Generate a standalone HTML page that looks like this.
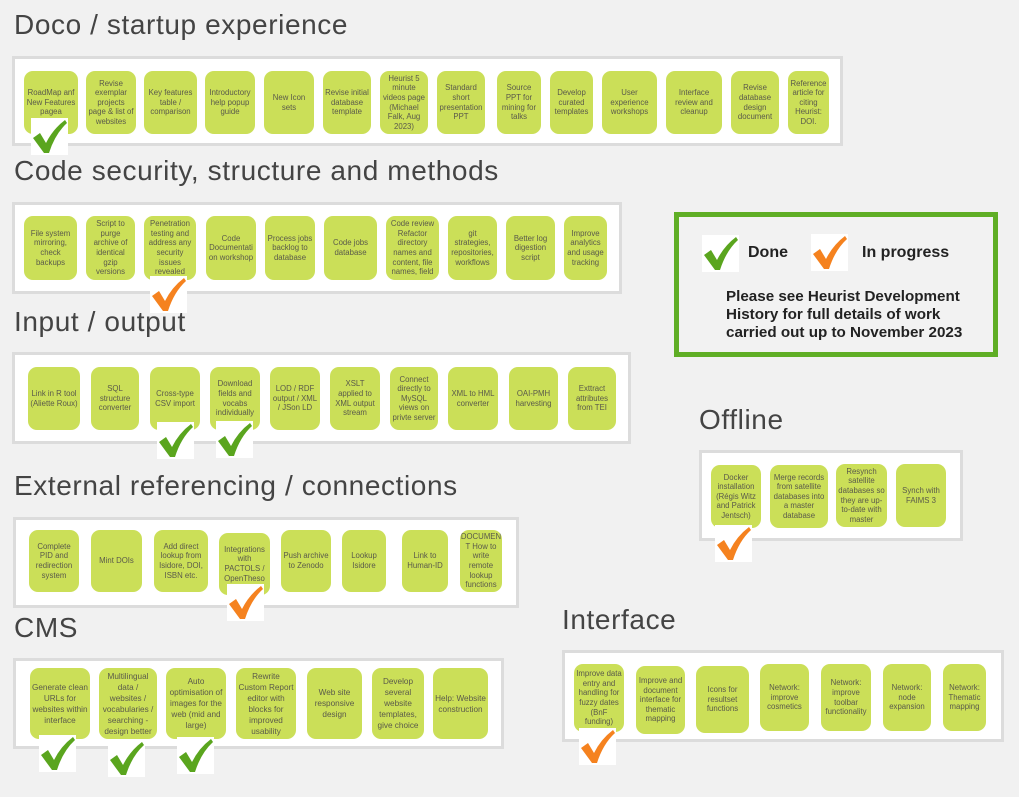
<!DOCTYPE html>
<html><head><meta charset="utf-8"><style>
body{margin:0;width:1019px;height:797px;background:#f1f1f1;position:relative;overflow:hidden;font-family:"Liberation Sans",sans-serif}
.t{position:absolute;font-size:28px;letter-spacing:0.6px;color:#444;line-height:30px;white-space:nowrap}
.p{position:absolute;background:#fff;border:3px solid #dcdcdc;box-sizing:border-box}
.b{position:absolute;background:#cbdf58;border-radius:9px;display:flex;align-items:center;justify-content:center;text-align:center;font-size:7.8px;line-height:9.6px;color:#5a5a4a;padding:0 2px;box-sizing:border-box;overflow:hidden}
.c{position:absolute;background:#fff;width:37px;height:37px}
.c svg{width:37px;height:37px;display:block}
.lg{position:absolute;left:674px;top:212px;width:324px;height:145px;border:5px solid #5fae25;box-sizing:border-box;background:#f2f2f2}
.lt{position:absolute;font-weight:bold;color:#222;white-space:nowrap}
</style></head><body>

<div class="t" style="left:14px;top:10px">Doco / startup experience</div>
<div class="p" style="left:12px;top:56px;width:831px;height:90px"></div>
<div class="b" style="left:24px;top:71px;width:54px;height:63px">RoadMap anf New Features pagea</div>
<div class="b" style="left:86px;top:71px;width:50px;height:63px">Revise exemplar projects page &amp; list of websites</div>
<div class="b" style="left:144px;top:71px;width:53px;height:63px">Key features table / comparison</div>
<div class="b" style="left:205px;top:71px;width:50px;height:63px">Introductory help popup guide</div>
<div class="b" style="left:264px;top:71px;width:50px;height:63px">New Icon sets</div>
<div class="b" style="left:323px;top:71px;width:48px;height:63px">Revise initial database template</div>
<div class="b" style="left:380px;top:71px;width:48px;height:63px">Heurist 5 minute videos page (Michael Falk, Aug 2023)</div>
<div class="b" style="left:437px;top:71px;width:48px;height:63px">Standard short presentation PPT</div>
<div class="b" style="left:497px;top:71px;width:44px;height:63px">Source PPT for mining for talks</div>
<div class="b" style="left:550px;top:71px;width:43px;height:63px">Develop curated templates</div>
<div class="b" style="left:602px;top:71px;width:55px;height:63px">User experience workshops</div>
<div class="b" style="left:666px;top:71px;width:56px;height:63px">Interface review and cleanup</div>
<div class="b" style="left:731px;top:71px;width:48px;height:63px">Revise database design document</div>
<div class="b" style="left:788px;top:71px;width:41px;height:63px">Reference article for citing Heurist: DOI.</div>

<div class="t" style="left:14px;top:156px">Code security, structure and methods</div>
<div class="p" style="left:12px;top:202px;width:610px;height:92px"></div>
<div class="b" style="left:24px;top:216px;width:53px;height:64px">File system mirroring, check backups</div>
<div class="b" style="left:86px;top:216px;width:49px;height:64px">Script to purge archive of identical gzip versions</div>
<div class="b" style="left:144px;top:216px;width:52px;height:64px">Penetration testing and address any security issues revealed</div>
<div class="b" style="left:206px;top:216px;width:50px;height:64px">Code Documentati on workshop</div>
<div class="b" style="left:265px;top:216px;width:50px;height:64px">Process jobs backlog to database</div>
<div class="b" style="left:324px;top:216px;width:53px;height:64px">Code jobs database</div>
<div class="b" style="left:386px;top:216px;width:53px;height:64px">Code review Refactor directory names and content, file names, field</div>
<div class="b" style="left:448px;top:216px;width:49px;height:64px">git strategies, repositories, workflows</div>
<div class="b" style="left:506px;top:216px;width:49px;height:64px">Better log digestion script</div>
<div class="b" style="left:564px;top:216px;width:43px;height:64px">Improve analytics and usage tracking</div>

<div class="t" style="left:14px;top:307px">Input / output</div>
<div class="p" style="left:12px;top:352px;width:619px;height:92px"></div>
<div class="b" style="left:28px;top:367px;width:52px;height:63px">Link in R tool (Aliette Roux)</div>
<div class="b" style="left:91px;top:367px;width:48px;height:63px">SQL structure converter</div>
<div class="b" style="left:150px;top:367px;width:50px;height:63px">Cross-type CSV import</div>
<div class="b" style="left:210px;top:367px;width:50px;height:63px">Download fields and vocabs individually</div>
<div class="b" style="left:270px;top:367px;width:50px;height:63px">LOD / RDF output / XML / JSon LD</div>
<div class="b" style="left:330px;top:367px;width:50px;height:63px">XSLT applied to XML output stream</div>
<div class="b" style="left:390px;top:367px;width:48px;height:63px">Connect directly to MySQL views on privte server</div>
<div class="b" style="left:448px;top:367px;width:50px;height:63px">XML to HML converter</div>
<div class="b" style="left:509px;top:367px;width:49px;height:63px">OAI-PMH harvesting</div>
<div class="b" style="left:568px;top:367px;width:48px;height:63px">Exttract attributes from TEI</div>

<div class="t" style="left:14px;top:471px">External referencing / connections</div>
<div class="p" style="left:13px;top:517px;width:506px;height:91px"></div>
<div class="b" style="left:29px;top:530px;width:50px;height:62px">Complete PID and redirection system</div>
<div class="b" style="left:91px;top:530px;width:51px;height:62px">Mint DOIs</div>
<div class="b" style="left:154px;top:530px;width:54px;height:62px">Add direct lookup from Isidore, DOI, ISBN etc.</div>
<div class="b" style="left:219px;top:533px;width:51px;height:62px">Integrations with PACTOLS / OpenTheso</div>
<div class="b" style="left:281px;top:530px;width:50px;height:62px">Push archive to Zenodo</div>
<div class="b" style="left:342px;top:530px;width:44px;height:62px">Lookup Isidore</div>
<div class="b" style="left:402px;top:530px;width:46px;height:62px">Link to Human-ID</div>
<div class="b" style="left:460px;top:530px;width:42px;height:62px">DOCUMEN T How to write remote lookup functions</div>

<div class="t" style="left:14px;top:613px">CMS</div>
<div class="p" style="left:13px;top:658px;width:491px;height:91px"></div>
<div class="b" style="left:30px;top:668px;width:60px;height:71px;font-size:8.2px;line-height:11px">Generate clean URLs for websites within interface</div>
<div class="b" style="left:99px;top:668px;width:58px;height:71px;font-size:8.2px;line-height:11px">Multilingual data / websites / vocabularies / searching - design better</div>
<div class="b" style="left:166px;top:668px;width:60px;height:71px;font-size:8.2px;line-height:11px">Auto optimisation of images for the web (mid and large)</div>
<div class="b" style="left:236px;top:668px;width:60px;height:71px;font-size:8.2px;line-height:11px">Rewrite Custom Report editor with blocks for improved usability</div>
<div class="b" style="left:307px;top:668px;width:55px;height:71px;font-size:8.2px;line-height:11px">Web site responsive design</div>
<div class="b" style="left:372px;top:668px;width:52px;height:71px;font-size:8.2px;line-height:11px">Develop several website templates, give choice</div>
<div class="b" style="left:433px;top:668px;width:55px;height:71px;font-size:8.2px;line-height:11px">Help: Website construction</div>

<div class="t" style="left:562px;top:605px">Interface</div>
<div class="p" style="left:562px;top:650px;width:442px;height:92px"></div>
<div class="b" style="left:574px;top:664px;width:50px;height:68px">Improve data entry and handling for fuzzy dates (BnF funding)</div>
<div class="b" style="left:636px;top:666px;width:49px;height:68px">Improve and document interface for thematic mapping</div>
<div class="b" style="left:696px;top:666px;width:53px;height:67px">Icons for resultset functions</div>
<div class="b" style="left:760px;top:664px;width:49px;height:67px">Network: improve cosmetics</div>
<div class="b" style="left:821px;top:664px;width:50px;height:67px">Network: improve toolbar functionality</div>
<div class="b" style="left:883px;top:664px;width:48px;height:67px">Network: node expansion</div>
<div class="b" style="left:943px;top:664px;width:43px;height:67px">Network: Thematic mapping</div>

<div class="t" style="left:699px;top:405px">Offline</div>
<div class="p" style="left:699px;top:450px;width:264px;height:91px"></div>
<div class="b" style="left:711px;top:465px;width:50px;height:63px">Docker installation (Régis Witz and Patrick Jentsch)</div>
<div class="b" style="left:770px;top:465px;width:58px;height:63px">Merge records from satellite databases into a master database</div>
<div class="b" style="left:836px;top:464px;width:51px;height:63px">Resynch satellite databases so they are up-to-date with master</div>
<div class="b" style="left:896px;top:464px;width:50px;height:63px">Synch with FAIMS 3</div>

<div class="lg"></div>
<div class="lt" style="left:748px;top:244px;font-size:16px">Done</div>
<div class="lt" style="left:862px;top:244px;font-size:16px">In progress</div>
<div class="lt" style="left:726px;top:288px;font-size:15.2px;line-height:18px">Please see Heurist Development<br>History for full details of work<br>carried out up to November 2023</div>

<svg width="0" height="0" style="position:absolute"><defs>
<path id="ck" d="M2 20 L9 15 L15 25 Q22 11 34 2 L36 5 Q24 16 18 35 L13 35 Z"/>
</defs></svg>
<div class="c" style="left:31px;top:118px"><svg viewBox="0 0 37 37"><use href="#ck" fill="#5aa51e"/></svg></div>
<div class="c" style="left:150px;top:276px"><svg viewBox="0 0 37 37"><use href="#ck" fill="#f5821f"/></svg></div>
<div class="c" style="left:157px;top:422px"><svg viewBox="0 0 37 37"><use href="#ck" fill="#5aa51e"/></svg></div>
<div class="c" style="left:216px;top:421px"><svg viewBox="0 0 37 37"><use href="#ck" fill="#5aa51e"/></svg></div>
<div class="c" style="left:227px;top:584px"><svg viewBox="0 0 37 37"><use href="#ck" fill="#f5821f"/></svg></div>
<div class="c" style="left:39px;top:735px"><svg viewBox="0 0 37 37"><use href="#ck" fill="#5aa51e"/></svg></div>
<div class="c" style="left:108px;top:740px"><svg viewBox="0 0 37 37"><use href="#ck" fill="#5aa51e"/></svg></div>
<div class="c" style="left:177px;top:737px"><svg viewBox="0 0 37 37"><use href="#ck" fill="#5aa51e"/></svg></div>
<div class="c" style="left:579px;top:728px"><svg viewBox="0 0 37 37"><use href="#ck" fill="#f5821f"/></svg></div>
<div class="c" style="left:715px;top:525px"><svg viewBox="0 0 37 37"><use href="#ck" fill="#f5821f"/></svg></div>
<div class="c" style="left:702px;top:235px"><svg viewBox="0 0 37 37"><use href="#ck" fill="#5aa51e"/></svg></div>
<div class="c" style="left:811px;top:234px"><svg viewBox="0 0 37 37"><use href="#ck" fill="#f5821f"/></svg></div>
</body></html>
